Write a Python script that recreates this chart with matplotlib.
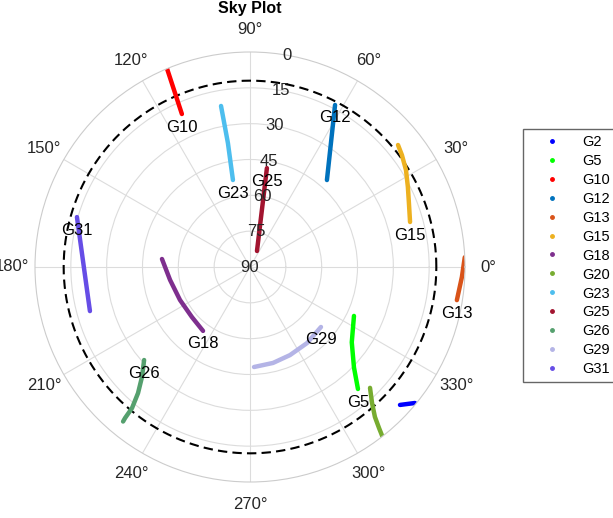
import numpy as np
import matplotlib.pyplot as plt
from matplotlib.lines import Line2D

plt.rcParams['font.family'] = ['Liberation Sans', 'DejaVu Sans']

# satellite tracks: azimuth (deg) and elevation (deg), last point carries the label
sats = ['G2', 'G5', 'G10', 'G12', 'G13', 'G15', 'G18', 'G20', 'G23', 'G25', 'G26', 'G29', 'G31']
colors = ['#0000FF', '#00FF00', '#FF0000', '#0072BD', '#D95319', '#EDB120', '#7E2F8E',
          '#77AC30', '#4DBEEE', '#A2142F', '#55A06E', '#B4B4E6', '#664DE6']
show_label = [False, True, True, True, True, True, True, False, True, True, True, True, True]

g2_az = [317.4, 320.5]
g2_el = [4.7, 0.5]
g5_az = [-25.2, -36.5, -44.0, -48.5]
g5_el = [41.9, 37.0, 29.5, 21.8]
g10_az = [112.7, 114.0]
g10_el = [0.1, 19.9]
g12_az = [48.5, 62.3]
g12_el = [41.4, 13.4]
g13_az = [2.6, -2.7, -9.1]
g13_el = [0.0, 1.2, 2.3]
g15_az = [39.5, 36.4, 31.9, 26.9, 21.9, 15.7]
g15_el = [9.7, 11.0, 13.1, 15.9, 18.3, 20.4]
g18_az = [174.8, 189.2, 205.2, 220.8, 233.7]
g18_el = [53.0, 56.1, 57.6, 57.9, 56.8]
g20_az = [314.8, 311.9, 309.8, 308.7, 308.0]
g20_el = [18.7, 13.5, 8.3, 3.6, 0.0]
g23_az = [100.2, 100.1, 101.1]
g23_el = [21.5, 37.3, 52.9]
g25_az = [66.4, 80.3]
g25_el = [82.7, 48.0]
g26_az = [230.6, 230.4, 230.1, 228.4, 225.5, 221.3]
g26_el = [6.3, 8.0, 13.0, 19.4, 25.5, 31.0]
g29_az = [272.3, 283.5, 294.4, 306.9, 319.8]
g29_el = [48.1, 48.7, 49.5, 50.2, 51.1]
g31_az = [195.4, 163.9]
g31_el = [20.5, 14.6]

az_list = [g2_az, g5_az, g10_az, g12_az, g13_az, g15_az, g18_az, g20_az, g23_az, g25_az, g26_az, g29_az, g31_az]
el_list = [g2_el, g5_el, g10_el, g12_el, g13_el, g15_el, g18_el, g20_el, g23_el, g25_el, g26_el, g29_el, g31_el]

elev_mask = 12
elev_ticks = [0, 15, 30, 45, 60, 75, 90]
az_ticks = list(range(0, 360, 30))

fig = plt.figure(figsize=(6.13, 5.18), dpi=100)
ax = fig.add_axes([35 / 613, 36 / 518, 430 / 613, 430 / 518], projection='polar')

text_col = '#262626'
grid_col = '#dcdcdc'

ax.set_ylim(0, 90)
ax.set_thetagrids(az_ticks, labels=[])
ax.set_rgrids([90 - e for e in elev_ticks[1:-1]], labels=[])
ax.grid(True, color=grid_col, lw=0.8)
ax.spines['polar'].set_color('#cccccc')
ax.spines['polar'].set_linewidth(0.8)

# azimuth labels, centred on a ring just outside the plot
for a in az_ticks:
    ax.text(np.radians(a), 99.6, f'{a}°', ha='center', va='center', fontsize=12,
            color=text_col, clip_on=False)

for e in elev_ticks:
    ax.text(np.radians(80), 90 - e, str(e), ha='center', va='center', fontsize=12, color=text_col)

# elevation mask
th = np.linspace(0, 2 * np.pi, 361)
ax.plot(th, np.full_like(th, 90 - elev_mask), color='k', lw=1.5, linestyle=(0, (4.5, 2.5)))

for name, c, az, el, lab in zip(sats, colors, az_list, el_list, show_label):
    t = np.radians(az)
    r = 90 - np.array(el)
    ax.plot(t, r, color=c, lw=3.2, solid_capstyle='round', solid_joinstyle='round')
    if lab:
        ax.annotate(name, (t[-1], r[-1]), xytext=(0, -13), textcoords='offset pixels',
                    ha='center', va='center', fontsize=12, color='k')

handles = [Line2D([], [], marker='.', ls='none', color=c, markersize=5) for c in colors]
leg = fig.legend(handles, sats, loc='upper left', bbox_to_anchor=(523 / 613, 1 - 129 / 518),
                 fontsize=10.5, frameon=True, fancybox=False, handlelength=3.15,
                 handletextpad=0.5, labelspacing=0.34, borderpad=0.4, borderaxespad=0)
leg.get_frame().set_edgecolor('#404040')
leg.get_frame().set_linewidth(1.0)

fig.text(250 / 613, 1 - 9 / 518, 'Sky Plot', ha='center', va='center', fontsize=11.5, fontweight='bold')

fig.savefig('out.png', dpi=100)
